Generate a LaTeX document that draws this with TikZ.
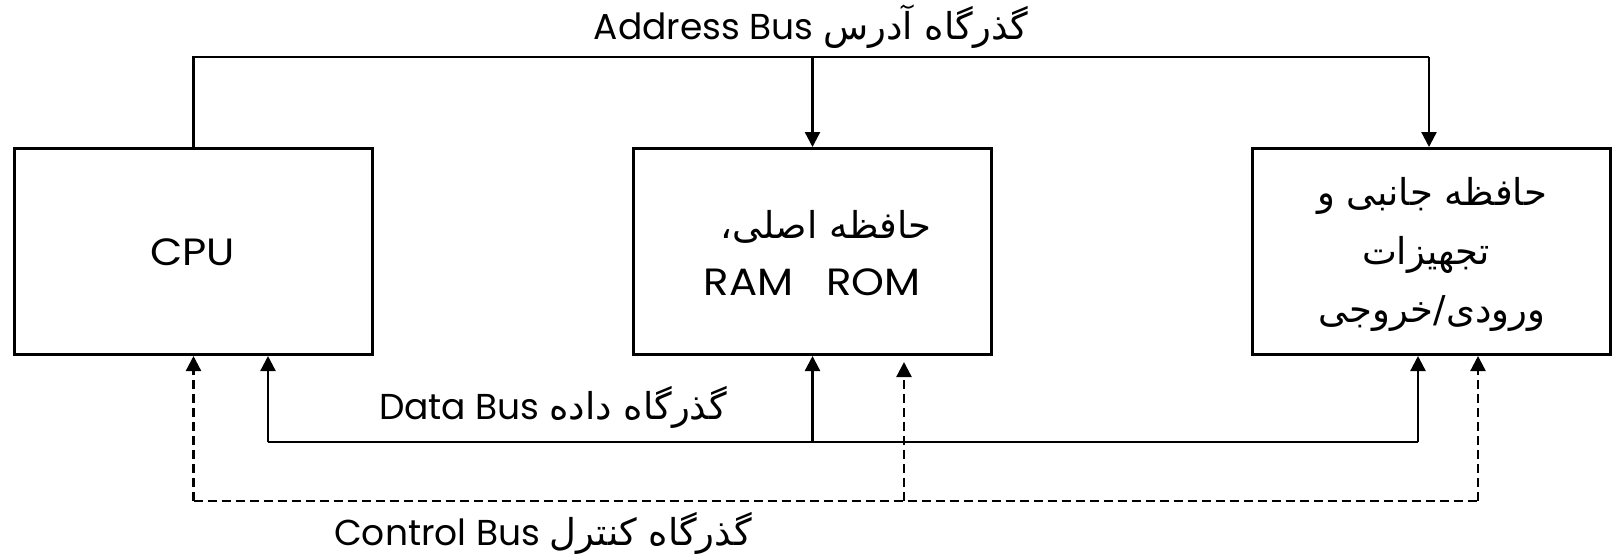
\documentclass[tikz,border=0pt]{standalone}
\usepackage{fontspec}
\setmainfont[FakeStretch=1.1]{Poppins}
\newfontfamily\labelfont{Poppins}
\newfontfamily\arabicfont[Script=Arabic]{DejaVu Sans}
\TeXXeTstate=1
\usetikzlibrary{arrows.meta}
\newcommand\fa[1]{{\arabicfont\fontsize{37}{40}\selectfont\beginR #1\endR}}
\begin{document}
\begin{tikzpicture}[x=1pt,y=-1pt,
  box/.style={draw,line width=3.4pt,minimum width=357.6pt,minimum height=205.6pt,inner sep=0pt},
  bus/.style={line width=2.3pt},
  arr/.style={-{Triangle[length=15pt,width=15pt]}},
  ctl/.style={line width=2.3pt,dash pattern=on 9pt off 5pt},
  txt/.style={font=\fontsize{38}{40}\selectfont,inner sep=0pt,anchor=base},
  lbl/.style={font=\labelfont\fontsize{36}{40}\selectfont,inner sep=0pt,anchor=base}]
\useasboundingbox (0,0) rectangle (1614,558);
\fill[white] (0,0) rectangle (1614,558);

\node[box] (cpu) at (193.5,251.5) {};
\node[box] (mem) at (812.5,251.5) {};
\node[box] (io) at (1431.5,251.5) {};

\node[txt] (cpuT) at (192.5,265) {CPU};
\node[txt] (memT1) at (826,238) {\fa{حافظه اصلی،}};
\node[txt] (memT2) at (812,295) {RAM\hspace{33pt}ROM};
\node[txt] (ioT1) at (1432,205) {\fa{حافظه جانبی و}};
\node[txt] (ioT2) at (1426,264) {\fa{تجهیزات}};
\node[txt] (ioT3) at (1432,322) {\fa{ورودی/خروجی}};

% address bus
\coordinate (aL) at (193.5,57);
\coordinate (aR) at (1429,57);
\draw[bus] (cpu.north) -- (aL) -- (aR);
\draw[bus,arr] (aR) -- (aR |- io.north);
\draw[bus,arr] (mem.north |- aL) -- (mem.north);

% data bus
\coordinate (dL) at (268,442);
\coordinate (dR) at (1418,442);
\draw[bus] (dL) -- (dR);
\draw[bus,arr] (dL) -- (dL |- cpu.south);
\draw[bus,arr] (dR) -- (dR |- io.south);
\draw[bus,arr] (mem.south |- dL) -- (mem.south);

% control bus
\coordinate (cL) at (193.5,501);
\coordinate (cM) at (904,501);
\coordinate (cR) at (1478,501);
\coordinate (mTip) at (904,362);
\draw[ctl] (cL) -- (cR);
\draw[ctl,arr] (cL) -- (cpu.south);
\draw[ctl,arr] (cM) -- (mTip);
\draw[ctl,arr] (cR) -- (cR |- io.south);

% labels
\node[lbl] (addr) at (811,39) {Address Bus \fa{گذرگاه آدرس}};
\node[lbl] (data) at (553,419) {Data Bus \fa{گذرگاه داده}};
\node[lbl] (ctrl) at (543,545) {Control Bus \fa{گذرگاه کنترل}};
\end{tikzpicture}
\end{document}
